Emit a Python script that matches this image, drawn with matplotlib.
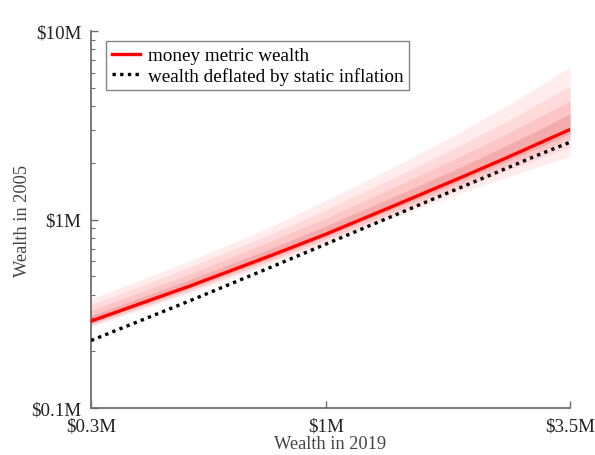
import matplotlib
matplotlib.use("Agg")
import matplotlib.pyplot as plt
from matplotlib.ticker import FixedLocator, NullLocator, LogLocator, NullFormatter

# Data (millions of dollars)
wealth_2019 = [0.3, 0.5, 0.75, 1.0, 1.5, 2.0, 2.5, 3.0, 3.5]
money_metric = [0.289, 0.445, 0.64, 0.835, 1.25, 1.67, 2.1, 2.55, 3.0]
static_deflated = [0.228, 0.372, 0.555, 0.74, 1.11, 1.48, 1.85, 2.22, 2.57]

band_upper_4 = [0.379, 0.605, 0.909, 1.26, 2.03, 2.92, 3.95, 5.13, 6.45]
band_upper_3 = [0.353, 0.561, 0.832, 1.126, 1.775, 2.49, 3.28, 4.16, 5.1]
band_upper_2 = [0.329, 0.516, 0.762, 1.016, 1.575, 2.17, 2.81, 3.52, 4.26]
band_upper_1 = [0.309, 0.481, 0.698, 0.924, 1.40, 1.90, 2.44, 3.01, 3.63]
band_lower_1 = [0.283, 0.434, 0.621, 0.815, 1.206, 1.603, 2.006, 2.42, 2.85]
band_lower_2 = [0.277, 0.425, 0.608, 0.79, 1.163, 1.536, 1.911, 2.295, 2.67]
band_lower_3 = [0.275, 0.418, 0.595, 0.769, 1.119, 1.461, 1.796, 2.117, 2.43]
band_lower_4 = [0.269, 0.409, 0.579, 0.748, 1.075, 1.386, 1.659, 1.925, 2.16]

x_ticks = [0.3, 1.0, 3.5]
x_ticklabels = ["\\$0.3M", "\\$1M", "\\$3.5M"]
y_ticks = [0.1, 1.0, 10.0]
y_ticklabels = ["\\$0.1M", "\\$1M", "\\$10M"]

plt.rcParams['font.family'] = ['Liberation Serif', 'DejaVu Serif']
plt.rcParams['font.size'] = 13.6

fig = plt.figure(figsize=(5.95, 4.56), dpi=100)
ax = fig.add_axes([91/595, 1 - 409/456, (570-91)/595, (409-32)/456])

band_colors = ['#ffeded', '#ffdada', '#fcc6c6', '#f3abab']
bands = [(band_lower_4, band_upper_4), (band_lower_3, band_upper_3),
         (band_lower_2, band_upper_2), (band_lower_1, band_upper_1)]
for (lo, hi), c in zip(bands, band_colors):
    ax.fill_between(wealth_2019, lo, hi, color=c, linewidth=0, zorder=1)

ax.plot(wealth_2019, money_metric, color='#ff0000', lw=2.4, zorder=3,
        label='money metric wealth')
ax.plot(wealth_2019, static_deflated, color='black', lw=2.4, ls=(0, (1, 1.3)),
        zorder=4, label='wealth deflated by static inflation')

ax.set_xscale('log')
ax.set_yscale('log')
ax.set_xlim(0.3, 3.5)
ax.set_ylim(0.1, 10)

ax.xaxis.set_major_locator(FixedLocator(x_ticks))
ax.xaxis.set_minor_locator(NullLocator())
ax.set_xticklabels(x_ticklabels)
ax.yaxis.set_major_locator(FixedLocator(y_ticks))
ax.yaxis.set_minor_locator(LogLocator(base=10, subs=range(2, 10)))
ax.yaxis.set_minor_formatter(NullFormatter())
ax.set_yticklabels(y_ticklabels)

for s in ['top', 'right']:
    ax.spines[s].set_visible(False)
for s in ['left', 'bottom']:
    ax.spines[s].set_color('#6e6e6e')
    ax.spines[s].set_linewidth(1.3)

ax.tick_params(axis='both', which='major', direction='in', length=5,
               width=1.0, color='#6e6e6e', labelcolor='#222222')
ax.tick_params(axis='x', which='major', pad=7)
ax.tick_params(axis='y', which='major', pad=7)
ax.tick_params(axis='y', which='minor', direction='in', length=3,
               width=0.8, color='#6e6e6e')

ax.set_xlabel('Wealth in 2019', color='#444444', labelpad=0, fontsize=13.2)
ax.set_ylabel('Wealth in 2005', color='#444444', labelpad=0, fontsize=13.2)

leg = ax.legend(loc='upper left', bbox_to_anchor=(0.031, 0.973), frameon=True,
                fancybox=False, edgecolor='#666666', handlelength=1.5,
                borderpad=0.3, labelspacing=0.12, handletextpad=0.4,
                borderaxespad=0.0, fontsize=13.8)
leg.get_frame().set_linewidth(1.0)

fig.savefig('out.png', dpi=100)
